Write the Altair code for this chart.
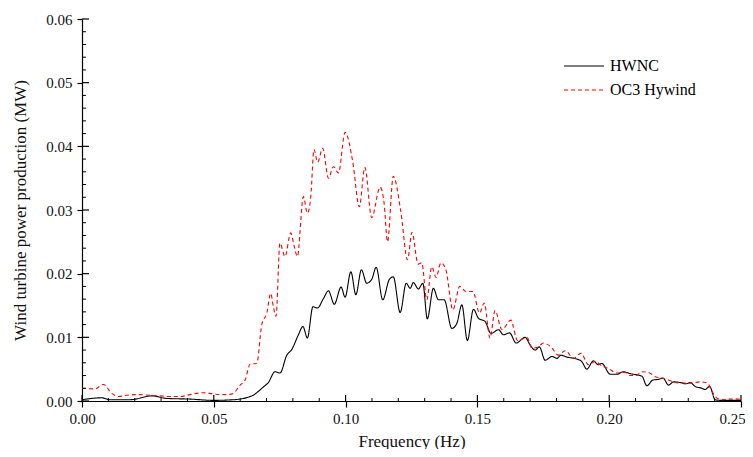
import altair as alt
import pandas as pd

# HWNC (black solid)
hwnc_f = [0.0, 0.0075, 0.0106, 0.0182, 0.0265, 0.0321, 0.041, 0.0498, 0.0574, 0.0644,
          0.0688, 0.0707, 0.0732, 0.0751, 0.0777, 0.0796, 0.0821, 0.0838, 0.0855, 0.0876,
          0.0893, 0.0916, 0.0935, 0.0957, 0.0983, 0.0998, 0.102, 0.1039, 0.106, 0.108,
          0.1099, 0.1116, 0.1141, 0.1166, 0.1181, 0.1207, 0.123, 0.1245, 0.1257, 0.1276,
          0.1293, 0.131, 0.1333, 0.1352, 0.1374, 0.1403, 0.1422, 0.1441, 0.1462, 0.1485,
          0.1504, 0.1529, 0.1552, 0.158, 0.1599, 0.1622, 0.1647, 0.1681, 0.17, 0.1719,
          0.1735, 0.1757, 0.1783, 0.1802, 0.1817, 0.1839, 0.1877, 0.1896, 0.1915, 0.194,
          0.1959, 0.1972, 0.2004, 0.2029, 0.2054, 0.208, 0.2105, 0.2124, 0.2143, 0.2166,
          0.2187, 0.2204, 0.2225, 0.2244, 0.2269, 0.2292, 0.2307, 0.2326, 0.2352, 0.2364,
          0.2381, 0.2402, 0.2421, 0.2459, 0.25]
hwnc_v = [0.0002, 0.0005, 0.0002, 0.0002, 0.0008, 0.0004, 0.0003, 0.0001, 0.0002, 0.0008,
          0.0022, 0.0029, 0.0046, 0.0044, 0.0072, 0.0081, 0.0104, 0.0117, 0.0099, 0.0148,
          0.0146, 0.0161, 0.0173, 0.0152, 0.0179, 0.0163, 0.0203, 0.0167, 0.0206, 0.0185,
          0.0191, 0.021, 0.0159, 0.0191, 0.0195, 0.0139, 0.0185, 0.0177, 0.0186, 0.0176,
          0.0185, 0.0129, 0.0177, 0.0159, 0.0159, 0.0114, 0.0122, 0.0151, 0.0095, 0.0144,
          0.013, 0.0125, 0.0106, 0.0112, 0.0104, 0.0107, 0.0091, 0.01, 0.0088, 0.008,
          0.0085, 0.0064, 0.007, 0.0067, 0.0072, 0.0069, 0.0066, 0.0062, 0.005, 0.0063,
          0.0057, 0.0059, 0.0042, 0.0042, 0.0046, 0.0043, 0.0041, 0.0039, 0.0024, 0.0033,
          0.0034, 0.0036, 0.0025, 0.003, 0.0029, 0.0027, 0.0029, 0.0023, 0.002, 0.0018,
          0.0023, 0.0002, 0.0001, 0.0001, 0.0001]

# OC3 Hywind (red dashed)
oc3_f = [0.0, 0.0049, 0.0081, 0.0113, 0.0138, 0.017, 0.0214, 0.0258, 0.0296, 0.0334,
         0.0372, 0.041, 0.046, 0.0498, 0.0549, 0.0574, 0.06, 0.0619, 0.0638, 0.0663,
         0.0682, 0.0701, 0.0716, 0.0726, 0.0736, 0.0751, 0.077, 0.0792, 0.0805, 0.0817,
         0.084, 0.0855, 0.0868, 0.088, 0.0894, 0.0913, 0.0935, 0.0954, 0.0973, 0.0998,
         0.1027, 0.1052, 0.1073, 0.1099, 0.1131, 0.1146, 0.1159, 0.1181, 0.1209, 0.1235,
         0.1252, 0.1275, 0.1289, 0.1308, 0.1327, 0.1343, 0.1362, 0.138, 0.1407, 0.1433,
         0.1457, 0.1483, 0.1508, 0.1526, 0.1548, 0.1567, 0.1593, 0.1627, 0.1652, 0.1688,
         0.1707, 0.1726, 0.1751, 0.1779, 0.1808, 0.1833, 0.1865, 0.1893, 0.1921, 0.1947,
         0.1972, 0.1997, 0.2029, 0.2061, 0.208, 0.2102, 0.2124, 0.2149, 0.2175, 0.22,
         0.2225, 0.225, 0.2282, 0.2307, 0.2345, 0.2373, 0.239, 0.2411, 0.2434, 0.2459, 0.25]
oc3_v = [0.002, 0.0019, 0.0026, 0.0012, 0.0007, 0.0009, 0.001, 0.0009, 0.0008, 0.0007,
         0.0007, 0.001, 0.0013, 0.0011, 0.001, 0.0012, 0.0025, 0.0033, 0.0058, 0.0059,
         0.012, 0.0138, 0.0169, 0.0148, 0.0133, 0.0248, 0.0227, 0.0264, 0.0243, 0.0227,
         0.0321, 0.0295, 0.0321, 0.0395, 0.0375, 0.0397, 0.035, 0.0368, 0.0358, 0.0422,
         0.0376, 0.0305, 0.0367, 0.0288, 0.0336, 0.0311, 0.025, 0.0353, 0.0299, 0.0222,
         0.0265, 0.0215, 0.0217, 0.0159, 0.0211, 0.0194, 0.0217, 0.0207, 0.0143, 0.018,
         0.0172, 0.0172, 0.0138, 0.0154, 0.0099, 0.0142, 0.0112, 0.0127, 0.0095, 0.01,
         0.0083, 0.0084, 0.0091, 0.0085, 0.0072, 0.0079, 0.0067, 0.0075, 0.0057, 0.0062,
         0.0055, 0.0051, 0.0044, 0.0045, 0.004, 0.004, 0.0046, 0.0045, 0.0038, 0.0036,
         0.0033, 0.0029, 0.0028, 0.0028, 0.003, 0.0028, 0.0015, 0.0004, 0.0002, 0.0003, 0.0003]

series_names = ["HWNC", "OC3 Hywind"]
x_major = [0.0, 0.05, 0.10, 0.15, 0.20, 0.25]
x_minor = [0.01, 0.02, 0.03, 0.04, 0.06, 0.07, 0.08, 0.09, 0.11, 0.12, 0.13, 0.14,
           0.16, 0.17, 0.18, 0.19, 0.21, 0.22, 0.23, 0.24]
y_major = [0.0, 0.01, 0.02, 0.03, 0.04, 0.05, 0.06]
y_minor = [0.002, 0.004, 0.006, 0.008, 0.012, 0.014, 0.016, 0.018, 0.022, 0.024, 0.026,
           0.028, 0.032, 0.034, 0.036, 0.038, 0.042, 0.044, 0.046, 0.048, 0.052, 0.054,
           0.056, 0.058]

FONT = "Liberation Serif"
W, H = 659, 382

df = pd.concat([
    pd.DataFrame({"f": hwnc_f, "v": hwnc_v, "s": series_names[0]}),
    pd.DataFrame({"f": oc3_f, "v": oc3_v, "s": series_names[1]}),
])

xs = alt.Scale(domain=[0, 0.25], nice=False, zero=False)
ys = alt.Scale(domain=[0, 0.06], nice=False, zero=False)
col = alt.Color("s:N", scale=alt.Scale(domain=series_names, range=["#000000", "#ff0000"]),
                legend=None)
dash = alt.StrokeDash("s:N", scale=alt.Scale(domain=series_names, range=[[1, 0], [4, 3]]),
                      legend=None)

lines = alt.Chart(df).mark_line(strokeWidth=1.1, interpolate="monotone").encode(
    x=alt.X("f:Q", scale=xs, title="Frequency (Hz)",
            axis=alt.Axis(values=x_major, format=".2f", tickSize=6, grid=False,
                          labelPadding=4, titlePadding=7, labelFlush=False,
                          labelOffset={"condition": {"test": "datum.value > 0.24", "value": -9},
                                       "value": 0})),
    y=alt.Y("v:Q", scale=ys, title="Wind turbine power production (MW)",
            axis=alt.Axis(values=y_major, format=".2f", tickSize=5, grid=False,
                          labelPadding=5, titlePadding=16, labelFlush=False)),
    color=col,
    strokeDash=dash,
)

# legend (top right, inside the plot)
leg_df = pd.DataFrame({"s": series_names})
leg_y = alt.Y("s:N", scale=alt.Scale(type="point", domain=series_names, range=[47, 71],
                                     padding=0), axis=None)
leg_lines = alt.Chart(leg_df).mark_rule(strokeWidth=1.1).encode(
    x=alt.value(482), x2=alt.value(522), y=leg_y, color=col, strokeDash=dash)
leg_text = alt.Chart(leg_df).mark_text(align="left", baseline="middle", font=FONT,
                                       fontSize=16, color="#000000").encode(
    x=alt.value(528), y=leg_y, text="s:N")

xmaj_df = pd.DataFrame({"t": x_major})
xmin_df = pd.DataFrame({"t": x_minor})
ymaj_df = pd.DataFrame({"t": y_major})
ymin_df = pd.DataFrame({"t": y_minor})

tick_color = "#000000"
x_major_in = alt.Chart(xmaj_df).mark_rule(color=tick_color, strokeWidth=1.2).encode(
    x=alt.X("t:Q", scale=xs), y=alt.value(H), y2=alt.value(H - 6))
x_minor_in = alt.Chart(xmin_df).mark_rule(color=tick_color, strokeWidth=1).encode(
    x=alt.X("t:Q", scale=xs), y=alt.value(H), y2=alt.value(H - 3))
y_major_in = alt.Chart(ymaj_df).mark_rule(color=tick_color, strokeWidth=1.2).encode(
    y=alt.Y("t:Q", scale=ys), x=alt.value(0), x2=alt.value(7))
y_minor_in = alt.Chart(ymin_df).mark_rule(color=tick_color, strokeWidth=1).encode(
    y=alt.Y("t:Q", scale=ys), x=alt.value(0), x2=alt.value(4))

base = alt.layer(lines, x_major_in, x_minor_in, y_major_in, y_minor_in)
legend_layer = alt.layer(leg_lines, leg_text)

chart = alt.layer(base, legend_layer).resolve_scale(y="independent").properties(
    width=W, height=H,
    background="#ffffff",
    autosize=alt.AutoSizeParams(type="none"),
    padding={"left": 74, "top": 11, "right": 4, "bottom": 48},
).configure_view(stroke=None).configure_axis(
    domainColor="#000000", domainWidth=1.2, tickColor="#000000", tickWidth=1.2,
    labelFont=FONT, labelFontSize=15, labelColor="#111111",
    titleFont=FONT, titleFontSize=17, titleFontWeight="normal", titleColor="#111111",
)

chart.save("out.html", embed_options={"renderer": "svg", "actions": False})
